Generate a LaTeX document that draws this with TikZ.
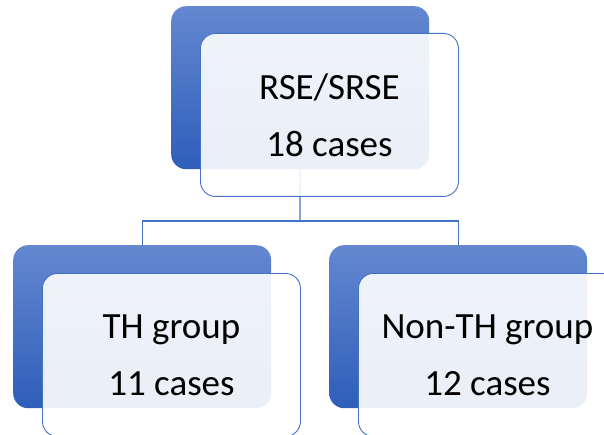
\documentclass[tikz,border=0pt]{standalone}
\usepackage{fontspec}
\setmainfont{Carlito}
\definecolor{lineblue}{RGB}{68,114,196}
\definecolor{topblue}{RGB}{100,136,208}
\definecolor{botblue}{RGB}{46,94,186}
\begin{document}
\begin{tikzpicture}[x=1pt,y=-1pt,
  bluebox/.style={rounded corners=15pt, top color=topblue, bottom color=botblue,
    draw=none, minimum width=258pt, minimum height=163pt, anchor=north west, inner sep=0pt},
  whitebox/.style={rounded corners=15pt, draw=lineblue, line width=0.9pt, fill=white, fill opacity=0.9,
    text opacity=1, minimum width=258pt, minimum height=163pt, anchor=north west, inner sep=0pt,
    align=center, font=\fontsize{37}{57}\selectfont},
  conn/.style={draw=lineblue, line width=1.3pt}]
\useasboundingbox (0,0) rectangle (604,435);
\begin{scope}
\clip (0,0) rectangle (604,435);
\node[bluebox] (tblue) at (171,6) {};
\node[bluebox] (lblue) at (13,245) {};
\node[bluebox] (rblue) at (329,245) {};
\coordinate (j) at (300,221);
\draw[conn] (tblue.south) -- (j);
\draw[conn] (j) -| (lblue.north);
\draw[conn] (j) -| (rblue.north);
\node[whitebox] (twhite) at (200,33) {RSE/SRSE\\18 cases};
\node[whitebox] (lwhite) at (42,273) {TH group\\11 cases};
\node[whitebox] (rwhite) at (358,273) {Non-TH group\\12 cases};
\end{scope}
\end{tikzpicture}
\end{document}
